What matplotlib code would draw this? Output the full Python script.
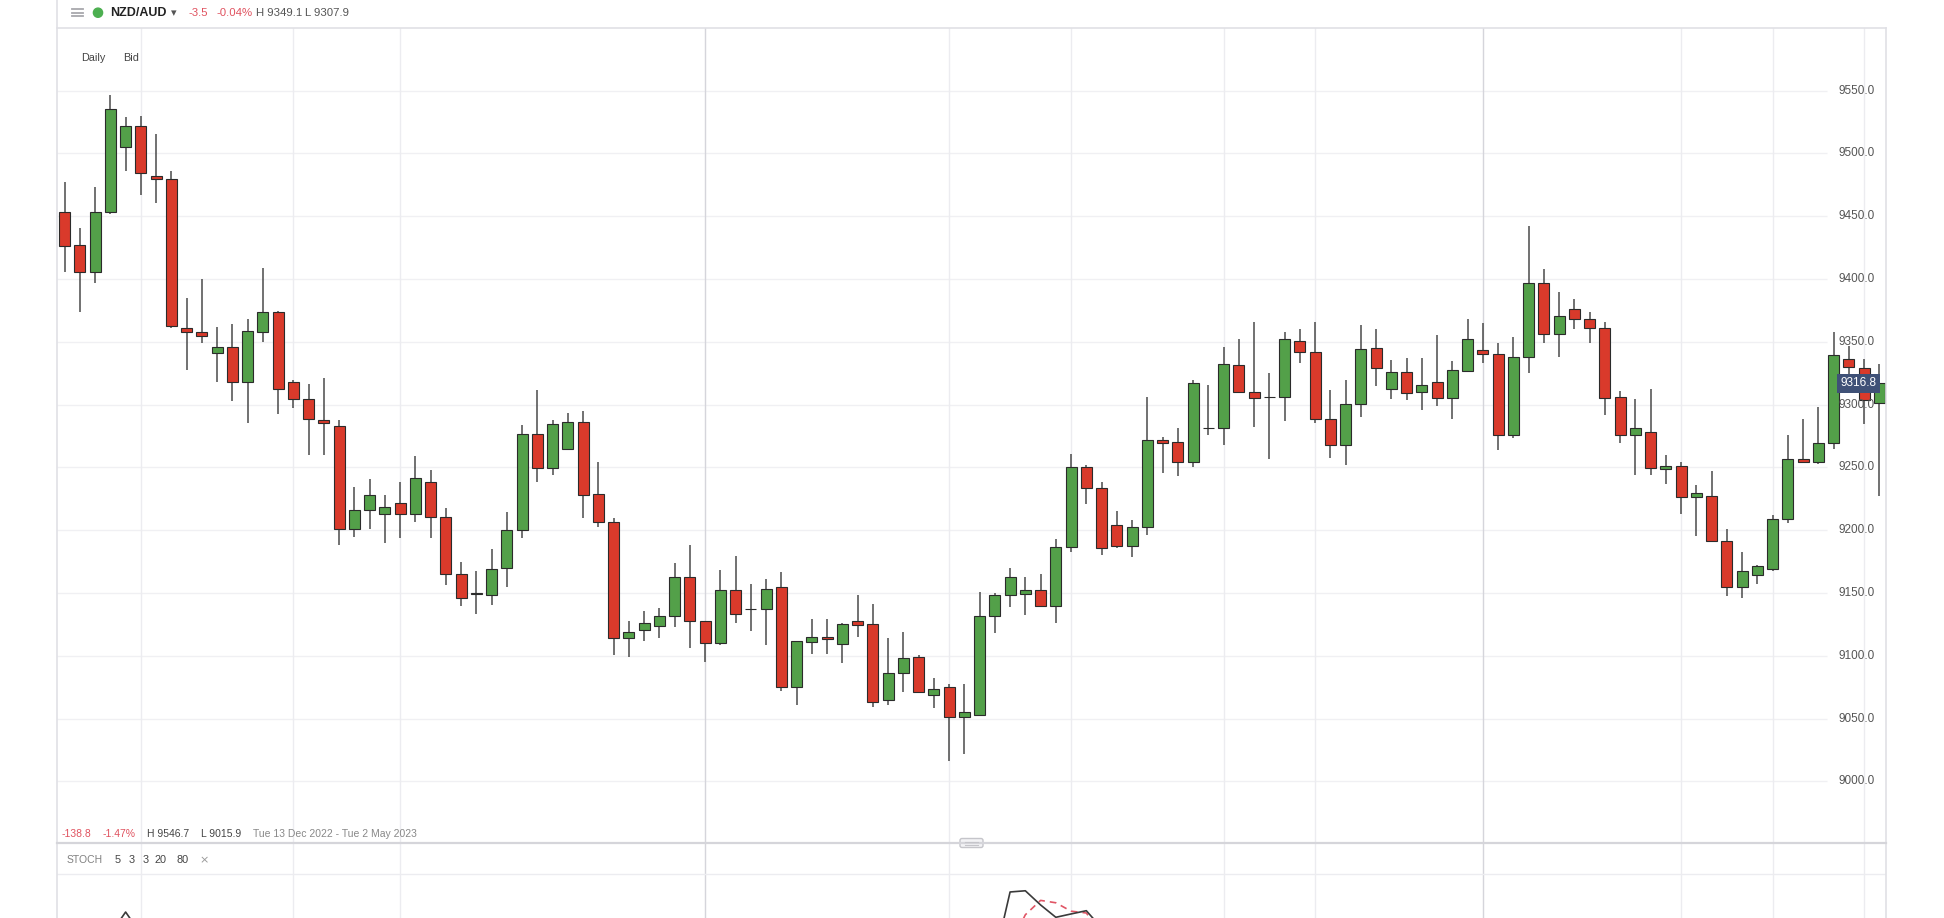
import numpy as np
import matplotlib
matplotlib.use("Agg")
import matplotlib.pyplot as plt
from matplotlib.patches import FancyBboxPatch, Circle

plt.rcParams['font.family'] = ['Liberation Sans', 'DejaVu Sans']

W, H = 1944, 918

# daily candles NZD/AUD (x 10000)
opens = [9453.6, 9427.0, 9405.3, 9453.6, 9505.4, 9522.1, 9482.0, 9479.4, 9360.7, 9357.5,
         9340.8, 9346.1, 9317.7, 9358.1, 9373.5, 9318.3, 9304.4, 9287.7, 9283.2, 9200.7,
         9216.0, 9212.6, 9221.4, 9212.6, 9238.1, 9210.7, 9164.8, 9150.0, 9148.8, 9169.6,
         9200.1, 9276.3, 9249.2, 9264.4, 9285.9, 9228.5, 9206.7, 9114.3, 9120.9, 9123.5,
         9131.5, 9162.9, 9127.6, 9110.3, 9152.2, 9136.9, 9137.1, 9154.9, 9075.2, 9111.1,
         9114.8, 9109.8, 9127.9, 9125.1, 9064.7, 9086.4, 9098.7, 9069.2, 9075.2, 9051.4,
         9052.7, 9131.5, 9148.3, 9149.6, 9152.2, 9139.5, 9186.8, 9250.3, 9233.7, 9204.5,
         9187.6, 9202.2, 9271.7, 9270.4, 9254.5, 9281.0, 9281.6, 9331.5, 9310.2, 9305.7,
         9305.7, 9350.6, 9342.0, 9288.5, 9267.8, 9300.1, 9344.7, 9312.1, 9326.2, 9309.7,
         9318.2, 9304.9, 9327.0, 9343.4, 9340.2, 9275.7, 9338.1, 9397.0, 9355.9, 9375.8,
         9368.1, 9361.2, 9306.2, 9275.7, 9277.9, 9248.4, 9251.3, 9226.6, 9227.1, 9191.6,
         9154.9, 9164.7, 9169.5, 9208.6, 9257.0, 9253.9, 9269.1, 9335.9, 9329.3, 9301.4]
highs = [9477.0, 9440.4, 9473.5, 9546.7, 9529.3, 9529.8, 9515.5, 9486.3, 9384.6, 9399.7,
         9362.0, 9363.9, 9367.9, 9408.5, 9374.5, 9319.6, 9316.4, 9321.4, 9287.7, 9234.6,
         9240.5, 9228.0, 9238.6, 9259.1, 9247.9, 9217.4, 9174.3, 9167.4, 9184.9, 9214.7,
         9283.7, 9311.6, 9287.7, 9293.0, 9295.2, 9254.5, 9209.4, 9127.6, 9135.8, 9137.7,
         9174.1, 9188.1, 9128.0, 9168.2, 9179.4, 9157.1, 9160.8, 9166.9, 9111.9, 9129.7,
         9129.2, 9126.0, 9148.3, 9140.9, 9113.8, 9118.6, 9100.5, 9082.5, 9077.9, 9077.9,
         9150.9, 9150.2, 9169.6, 9162.9, 9165.0, 9192.9, 9260.5, 9251.7, 9238.5, 9215.5,
         9208.0, 9306.2, 9274.4, 9281.1, 9319.5, 9315.5, 9345.5, 9351.9, 9366.0, 9325.4,
         9358.0, 9360.1, 9365.4, 9311.6, 9319.5, 9363.3, 9359.9, 9335.4, 9336.8, 9336.8,
         9355.4, 9334.7, 9367.8, 9365.2, 9349.2, 9354.1, 9442.2, 9407.6, 9389.9, 9383.8,
         9373.9, 9365.4, 9311.0, 9304.1, 9312.1, 9259.8, 9254.5, 9235.9, 9247.1, 9200.6,
         9182.8, 9172.0, 9212.0, 9275.7, 9288.2, 9298.3, 9358.0, 9346.6, 9335.9, 9332.2]
lows = [9405.9, 9373.5, 9397.1, 9452.0, 9486.3, 9466.9, 9460.3, 9360.7, 9327.5, 9348.8,
        9317.7, 9302.9, 9285.1, 9350.1, 9292.2, 9297.0, 9259.8, 9259.8, 9188.2, 9194.3,
        9200.7, 9190.0, 9193.5, 9206.2, 9193.5, 9156.0, 9139.8, 9133.2, 9140.3, 9155.0,
        9193.5, 9238.6, 9243.9, 9264.0, 9209.4, 9202.8, 9100.5, 9099.2, 9111.9, 9114.3,
        9123.1, 9106.4, 9094.7, 9109.0, 9126.3, 9119.9, 9109.0, 9072.1, 9061.2, 9101.8,
        9101.8, 9093.9, 9115.1, 9059.4, 9060.7, 9071.3, 9071.0, 9058.1, 9015.9, 9021.6,
        9052.0, 9117.9, 9138.5, 9132.4, 9139.0, 9126.3, 9182.8, 9220.8, 9180.1, 9185.5,
        9178.8, 9196.1, 9245.2, 9243.4, 9250.5, 9275.7, 9267.8, 9308.9, 9282.3, 9256.3,
        9287.1, 9332.8, 9285.0, 9257.1, 9251.8, 9290.3, 9315.0, 9304.4, 9303.6, 9295.6,
        9298.8, 9288.5, 9327.0, 9332.8, 9263.8, 9273.6, 9325.4, 9348.7, 9338.1, 9360.1,
        9348.7, 9291.6, 9269.6, 9243.9, 9243.9, 9236.4, 9212.8, 9195.3, 9191.6, 9147.5,
        9146.4, 9157.1, 9167.7, 9205.4, 9254.0, 9252.6, 9264.3, 9321.7, 9284.5, 9227.1]
closes = [9426.6, 9405.3, 9453.6, 9535.1, 9522.1, 9484.7, 9479.4, 9362.8, 9358.1, 9354.9,
          9346.1, 9317.7, 9358.9, 9373.5, 9312.1, 9304.2, 9288.3, 9285.6, 9200.7, 9216.0,
          9228.0, 9218.7, 9212.6, 9241.3, 9210.2, 9164.8, 9146.1, 9149.2, 9169.5, 9200.1,
          9276.3, 9249.2, 9284.3, 9286.4, 9228.0, 9206.8, 9114.3, 9118.6, 9126.5, 9131.5,
          9162.9, 9127.6, 9110.3, 9152.2, 9133.1, 9136.9, 9153.1, 9075.2, 9111.9, 9115.1,
          9113.5, 9125.7, 9124.4, 9063.4, 9086.4, 9097.9, 9071.3, 9073.2, 9051.4, 9055.4,
          9131.5, 9148.3, 9162.9, 9152.2, 9139.5, 9186.8, 9250.3, 9233.2, 9185.5, 9187.3,
          9202.7, 9271.7, 9269.6, 9254.5, 9317.4, 9281.0, 9332.0, 9309.7, 9305.4, 9305.7,
          9351.9, 9342.0, 9288.5, 9267.8, 9300.1, 9343.9, 9329.3, 9326.2, 9309.4, 9315.5,
          9304.9, 9327.5, 9351.9, 9340.2, 9275.7, 9338.1, 9397.0, 9355.9, 9370.5, 9368.1,
          9360.7, 9304.9, 9275.7, 9281.0, 9249.2, 9251.3, 9226.6, 9229.8, 9191.6, 9154.9,
          9167.7, 9171.4, 9208.6, 9256.6, 9254.5, 9269.1, 9339.4, 9330.1, 9303.6, 9316.8]

price_ticks = [9000, 9050, 9100, 9150, 9200, 9250, 9300, 9350, 9400, 9450, 9500, 9550]
grid_cols = [6, 16, 23, 43, 59, 67, 77, 83, 94, 107, 113, 119]
grid_cols_dark = [43, 94]
last_price = 9316.8

# visible bits of the STOCH 5 3 3 panel (rest is below the crop)
stoch_x = [4, 5, 6, 7, 62, 63, 64, 65, 66, 67, 68, 69]
stoch_k = [30, 48.3, 30, np.nan, 10, 65, 66, 54.2, 43.9, 46.7, 49.4, 35]
stoch_d = [np.nan, np.nan, np.nan, np.nan, np.nan, 20, 46, 58, 56, 49, 47.5, 30]

up_col = '#53a049'
down_col = '#d93a2b'

fig = plt.figure(figsize=(W / 100, H / 100), dpi=100)
fig.patch.set_facecolor('white')


def fx(x):
    return x / W


def fy(y):
    return 1 - y / H


# price panel
ax = fig.add_axes([fx(57), fy(843), (1886 - 57) / W, (843 - 27.7) / H])
ax.set_xlim(0.5, 120.44)
ax.set_ylim(8951, 9600)
ax.set_xticks([])
ax.set_yticks([])
for s in ax.spines.values():
    s.set_visible(False)

ax.hlines(price_ticks, 0.5, 116.6, color='#f0f0f3', lw=1, zorder=0)
for c in grid_cols:
    ax.axvline(c, color='#d5d5db' if c in grid_cols_dark else '#ececf0', lw=1, zorder=0)

idx = np.arange(1, len(opens) + 1)
o = np.array(opens)
c = np.array(closes)
cols = [up_col if cc >= oo else down_col for oo, cc in zip(o, c)]
ax.vlines(idx, lows, highs, color='#4a4a4a', lw=1.1, zorder=2)
ax.bar(idx, np.abs(c - o), bottom=np.minimum(o, c), width=0.72, color=cols,
       edgecolor='#2b2b2b', linewidth=0.8, zorder=3)

ytr = ax.get_yaxis_transform()
for p in price_ticks:
    ax.text(0.994, p, f"{p:.1f}", transform=ytr, ha='right', va='center',
            fontsize=8.5, color='#555555', zorder=5)
ax.text(0.985, last_price, f"{last_price:.1f}", transform=ytr, ha='center', va='center',
        fontsize=8.5, color='white', zorder=6,
        bbox=dict(boxstyle='square,pad=0.3', fc='#3f5177', ec='none'))

# stochastic panel
sx = fig.add_axes([fx(57), fy(970), (1886 - 57) / W, 127 / H])
sx.set_xlim(0.5, 120.44)
sx.set_ylim(0, 105.8)
sx.set_xticks([])
sx.set_yticks([])
for s in sx.spines.values():
    s.set_visible(False)
sx.patch.set_alpha(0)
for cc in grid_cols:
    sx.axvline(cc, color='#d5d5db' if cc in grid_cols_dark else '#ececf0', lw=1, zorder=0)
sx.axhline(80, color='#ececf0', lw=1, zorder=0)
sx.plot(stoch_x, stoch_k, color='#3a3a3a', lw=1.2, zorder=3)
sx.plot(stoch_x, stoch_d, color='#e05565', lw=1.2, dashes=(4, 3), zorder=2)

# overlay in pixel coords for frame and texts
ov = fig.add_axes([0, 0, 1, 1], zorder=10)
ov.set_xlim(0, W)
ov.set_ylim(H, 0)
ov.axis('off')
ov.patch.set_alpha(0)

ov.plot([57, 1886], [27.7, 27.7], color='#e0e0e5', lw=1.2)
ov.plot([57, 57], [0, H], color='#e0e0e5', lw=1.2)
ov.plot([1886, 1886], [27.7, H], color='#e0e0e5', lw=1.2)
ov.plot([57, 1886], [843, 843], color='#d5d5da', lw=1.6)
ov.add_patch(FancyBboxPatch((961, 839.5), 21, 7, boxstyle='round,pad=1,rounding_size=2',
                            fc='#f3f3f5', ec='#c5c5ca', lw=1))
ov.plot([965, 978], [842, 842], color='#c5c5ca', lw=0.8)
ov.plot([965, 978], [844.5, 844.5], color='#c5c5ca', lw=0.8)

# header
for yy in (9, 12.7, 16.4):
    ov.plot([72, 83], [yy, yy], color='#a8a8ad', lw=1.3)
ov.add_patch(Circle((98, 12.7), 4.6, color='#4caf50'))
ov.text(110, 12.7, 'NZD/AUD', fontsize=9, fontweight='bold', color='#222222', va='center')
ov.text(171, 13.5, '▾', fontsize=8, color='#555555', va='center', family='DejaVu Sans')
red_txt = '#e0525f'
ov.text(188, 12.7, '-3.5', fontsize=8.2, color=red_txt, va='center')
ov.text(216, 12.7, '-0.04%', fontsize=8.2, color=red_txt, va='center')
ov.text(256, 12.7, 'H 9349.1', fontsize=8.2, color='#555555', va='center')
ov.text(305, 12.7, 'L 9307.9', fontsize=8.2, color='#555555', va='center')

ov.text(81, 58.3, 'Daily', fontsize=7.8, color='#444444', va='center')
ov.text(123, 58.3, 'Bid', fontsize=7.8, color='#444444', va='center')

# range summary above the separator
ov.text(62, 834, '-138.8', fontsize=7.5, color=red_txt, va='center')
ov.text(103, 834, '-1.47%', fontsize=7.5, color=red_txt, va='center')
ov.text(147, 834, 'H 9546.7', fontsize=7.5, color='#444444', va='center')
ov.text(201, 834, 'L 9015.9', fontsize=7.5, color='#444444', va='center')
ov.text(253, 834, 'Tue 13 Dec 2022 - Tue 2 May 2023', fontsize=7.5, color='#888888', va='center')

ov.text(67, 860, 'STOCH', fontsize=7.5, color='#808080', va='center')
for xx, s in [(115, '5'), (129, '3'), (143, '3'), (154, '20'), (176, '80')]:
    ov.text(xx, 860, s, fontsize=7.8, color='#444444', va='center')
ov.text(199, 860, '×', fontsize=8, color='#999999', va='center', family='DejaVu Sans')

fig.savefig('out.png', dpi=100, facecolor='white')
